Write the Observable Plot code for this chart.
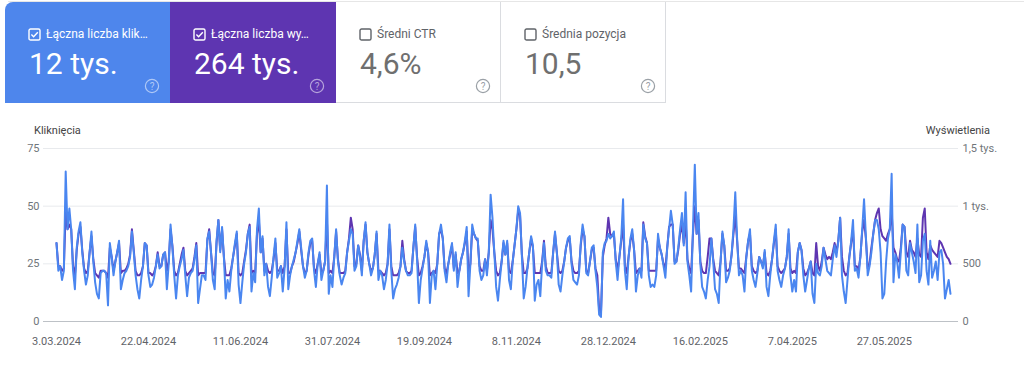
<!DOCTYPE html>
<html>
<head>
<meta charset="utf-8">
<script src="https://cdn.jsdelivr.net/npm/d3@7"></script>
<script src="https://cdn.jsdelivr.net/npm/@observablehq/plot@0.6"></script>
<style>
  html, body { margin: 0; padding: 0; background: #fff; }
  body { width: 1024px; height: 370px; position: relative; overflow: hidden; font-family: Roboto, "Noto Sans", sans-serif; }
  .topline { position: absolute; left: 8px; top: 1px; width: 1020px; height: 0; border-top: 1px solid #e6e6e6; }
  .card { position: absolute; top: 2px; width: 165px; height: 101px; box-sizing: border-box; }
  .card .cb { position: absolute; left: 23px; top: 26px; }
  .card .lab { position: absolute; left: 41px; top: 24px; font-size: 12px; line-height: 16px; white-space: nowrap; }
  .card .val { position: absolute; left: 24px; top: 44px; font-size: 30px; line-height: 36px; white-space: nowrap; }
  .card .q { position: absolute; left: 139px; top: 76px; }
  .c1 { left: 5px; background: #4e86ec; color: #fff; border-top-left-radius: 8px; }
  .c2 { left: 170px; background: #5e35b1; color: #fff; width: 166px; }
  .c3 { left: 336px; background: #fff; color: #5f6368; border-right: 1px solid #dadce0; border-bottom: 1px solid #dadce0; }
  .c4 { left: 501px; background: #fff; color: #5f6368; border-right: 1px solid #dadce0; border-bottom: 1px solid #dadce0; }
  .c3 .val, .c4 .val { color: #6f6f6f; }
  .axis-title { position: absolute; top: 124px; font-size: 11px; color: #444; }
  #chart { position: absolute; left: 0; top: 118px; }
</style>
</head>
<body>
<div class="topline"></div>
<div id="cards"></div>
<div class="axis-title" style="left:34px">Kliknięcia</div>
<div class="axis-title" style="right:34px">Wyświetlenia</div>
<div id="chart"></div>
<script>
// ---- card data ----
const cardLabels = ["Łączna liczba klik…", "Łączna liczba wy…", "Średni CTR", "Średnia pozycja"];
const cardValues = ["12 tys.", "264 tys.", "4,6%", "10,5"];
const cardChecked = [true, true, false, false];

// ---- series (daily, starting 2024-03-03) ----
const startDay = "2024-03-03";
const clicks = [
  34,22,24,18,22,65,40,
  49,40,22,14,32,39,
  43,30,22,16,20,30,39,
  26,17,12,10,21,22,22,
  21,7,34,28,20,26,
  30,35,14,18,21,22,24,
  28,39,30,20,14,10,18,
  24,34,33,20,15,16,19,
  24,29,23,24,29,30,
  14,25,42,32,20,10,20,
  24,27,31,20,11,19,21,
  22,27,33,8,14,20,
  20,18,36,39,30,18,14,
  35,44,30,41,28,10,18,
  13,22,28,34,39,16,8,
  17,25,30,38,41,13,
  21,17,40,49,30,37,20,
  25,15,11,19,28,36,19,
  21,24,13,23,43,14,
  20,24,27,30,35,40,32,
  24,19,22,30,35,36,22,
  15,25,30,18,22,26,59,
  12,20,15,28,40,26,
  20,16,19,21,30,35,40,
  38,22,24,33,28,20,35,
  43,30,25,20,23,29,
  39,18,22,20,14,18,25,
  42,22,10,14,16,19,24,
  32,26,22,20,20,21,32,
  42,27,8,18,23,28,
  35,30,8,20,22,14,25,
  38,42,36,22,17,25,30,
  34,22,30,15,22,27,
  30,35,41,11,25,42,38,
  36,36,22,18,20,27,20,
  30,55,45,30,15,9,18,
  26,35,29,35,18,14,
  26,33,40,50,47,28,10,
  15,23,30,37,33,9,16,
  18,11,25,34,22,20,
  20,19,30,39,30,16,13,
  20,26,32,36,37,25,18,
  17,16,20,34,42,37,21,
  20,26,32,33,22,15,
  3,2,30,34,35,38,36,
  37,39,26,18,28,36,53,
  22,14,28,36,40,31,
  13,20,23,19,42,36,34,
  20,15,16,15,20,38,32,
  29,24,19,32,40,48,42,
  25,26,32,40,47,33,
  56,26,20,13,40,68,38,
  47,25,15,13,10,18,24,
  36,26,14,12,8,26,
  39,33,17,19,22,29,40,
  56,36,20,22,20,13,28,
  35,40,22,18,15,21,28,
  26,23,31,15,11,20,
  27,35,42,22,18,15,20,
  23,28,40,20,13,18,13,
  30,34,31,20,13,18,
  23,26,12,8,25,21,20,
  24,32,27,22,21,20,27,
  33,28,35,45,20,13,8,
  18,28,35,44,22,23,
  19,28,40,53,37,20,24,
  30,38,44,44,40,30,10,
  12,26,36,40,64,17,29,
  26,19,30,42,41,22,
  20,34,30,26,21,42,17,
  20,35,38,22,16,35,19,
  22,26,18,30,31,25,10,
  14,18,12
];
const impressions = [
  680,480,480,440,460,960,800,
  840,800,480,400,620,760,
  820,620,460,420,440,600,740,
  540,420,400,380,440,440,440,
  420,380,640,560,440,520,
  600,680,420,440,440,460,500,
  580,800,620,440,400,400,420,
  480,680,660,420,420,400,420,
  480,600,480,480,580,600,
  440,520,800,660,440,400,420,
  500,580,640,440,400,420,440,
  460,560,680,400,420,420,
  420,420,700,800,600,420,400,
  680,880,620,800,560,400,400,
  400,460,560,660,760,420,400,
  420,520,620,760,840,420,
  440,420,760,880,600,720,440,
  500,440,420,440,540,680,440,
  440,480,420,480,800,420,
  420,480,520,600,680,780,620,
  480,420,440,580,680,700,460,
  420,500,580,420,440,520,880,
  420,440,420,560,780,540,
  420,420,420,440,600,720,900,
  800,480,500,660,580,440,700,
  840,600,500,440,460,580,
  760,440,440,420,400,420,500,
  800,480,400,400,400,420,480,
  700,540,440,420,420,440,640,
  820,560,400,420,480,560,
  680,600,400,420,440,420,500,
  760,800,720,460,420,500,580,
  660,460,580,420,440,540,
  600,680,780,420,500,800,760,
  720,700,480,440,440,540,440,
  600,880,800,600,440,400,420,
  520,680,580,680,440,420,
  520,660,800,960,920,580,420,
  420,460,600,720,640,420,420,
  420,420,520,700,480,420,
  420,420,600,760,600,440,420,
  440,520,640,700,720,520,440,
  420,420,440,660,800,740,440,
  420,520,620,640,460,400,
  100,80,560,660,720,900,760,
  740,760,540,440,560,700,840,
  480,420,560,700,760,620,
  420,440,460,440,860,740,680,
  440,440,440,440,440,720,640,
  580,500,460,640,820,840,840,
  520,520,620,760,840,680,
  880,540,460,420,760,1000,760,
  880,520,440,420,420,560,720,
  720,540,440,420,400,520,
  760,660,440,440,460,580,760,
  920,700,460,460,440,420,560,
  700,760,480,440,420,440,560,
  520,480,600,420,400,440,
  540,680,800,480,440,420,440,
  460,560,760,460,420,440,420,
  600,680,620,460,400,420,
  460,520,420,400,680,480,440,
  520,640,580,540,560,540,600,
  680,600,700,900,560,440,400,
  420,560,680,800,480,480,
  440,560,780,880,720,460,500,
  640,760,880,940,980,800,740,
  720,700,760,800,960,640,600,
  540,520,640,840,820,600,
  560,700,620,600,560,720,580,
  560,900,980,600,540,660,620,
  600,580,560,700,680,640,600,
  560,540,500
];

// ---- axes ----
const xTickDates = ["2024-03-03","2024-04-22","2024-06-11","2024-07-31","2024-09-19",
                    "2024-11-08","2024-12-28","2025-02-16","2025-04-07","2025-05-27"];
const leftTicks = [0, 25, 50, 75];
const rightTickLabels = ["0", "500", "1 tys.", "1,5 tys."];
const clicksMax = 75, impressionsMax = 1500;

// ---- cards ----
const cardsEl = document.getElementById("cards");
cardLabels.forEach((lab, i) => {
  const checked = cardChecked[i];
  const col = checked ? "#fff" : "#5f6368";
  const qcol = checked ? "rgba(255,255,255,0.55)" : "#9aa0a6";
  const cb = `<svg class="cb" width="13" height="13" viewBox="0 0 13 13">
      <rect x="1" y="1" width="11" height="11" rx="1.6" fill="none" stroke="${col}" stroke-width="1.4"/>
      ${checked ? `<path d="M3.4 6.6 L5.6 8.8 L9.8 4.3" fill="none" stroke="${col}" stroke-width="1.4"/>` : ""}
    </svg>`;
  const q = `<svg class="q" width="16" height="16" viewBox="0 0 16 16">
      <circle cx="8" cy="8" r="6.6" fill="none" stroke="${qcol}" stroke-width="1.2"/>
      <text x="8" y="11.6" text-anchor="middle" font-size="10" font-family="Roboto" fill="${qcol}">?</text>
    </svg>`;
  const d = document.createElement("div");
  d.className = "card c" + (i + 1);
  d.innerHTML = cb + `<div class="lab">${lab}</div><div class="val">${cardValues[i]}</div>` + q;
  cardsEl.appendChild(d);
});

// ---- chart ----
const parse = d3.utcParse("%Y-%m-%d");
const t0 = parse(startDay);
const rows = clicks.map((c, i) => ({
  date: d3.utcDay.offset(t0, i),
  clicks: c,
  impressions: impressions[i]
}));
const scaleRatio = impressionsMax / clicksMax;

const chart = Plot.plot({
  width: 1024,
  height: 233,
  marginLeft: 43,
  marginRight: 66,
  marginTop: 30,
  marginBottom: 30,
  style: { fontFamily: "Roboto", fontSize: "11px", color: "#5f6368", background: "transparent", overflow: "visible" },
  x: { type: "utc", domain: [rows[0].date, rows[rows.length - 1].date], insetLeft: 13, insetRight: 8 },
  y: { domain: [0, clicksMax] },
  marks: [
    Plot.gridY([25, 50, 75], { stroke: "#e8eaed", strokeOpacity: 1 }),
    Plot.ruleY([0], { stroke: "#bdc1c6" }),
    Plot.axisY(leftTicks, { anchor: "left", tickSize: 0, tickPadding: 4, label: null, fill: "#70757a" }),
    Plot.axisY(leftTicks, { anchor: "right", tickSize: 0, tickPadding: 4, label: null, fill: "#70757a",
      tickFormat: d => rightTickLabels[leftTicks.indexOf(d)] }),
    Plot.axisX(xTickDates.map(parse), { tickSize: 0, tickPadding: 16, label: null, fill: "#5f6368",
      tickFormat: d3.utcFormat("%-d.%m.%Y") }),
    Plot.lineY(rows, { x: "date", y: d => d.impressions / scaleRatio, stroke: "#5e35b1", strokeWidth: 2 }),
    Plot.lineY(rows, { x: "date", y: "clicks", stroke: "#4a86f0", strokeWidth: 2 })
  ]
});
document.getElementById("chart").appendChild(chart);
</script>
</body>
</html>
